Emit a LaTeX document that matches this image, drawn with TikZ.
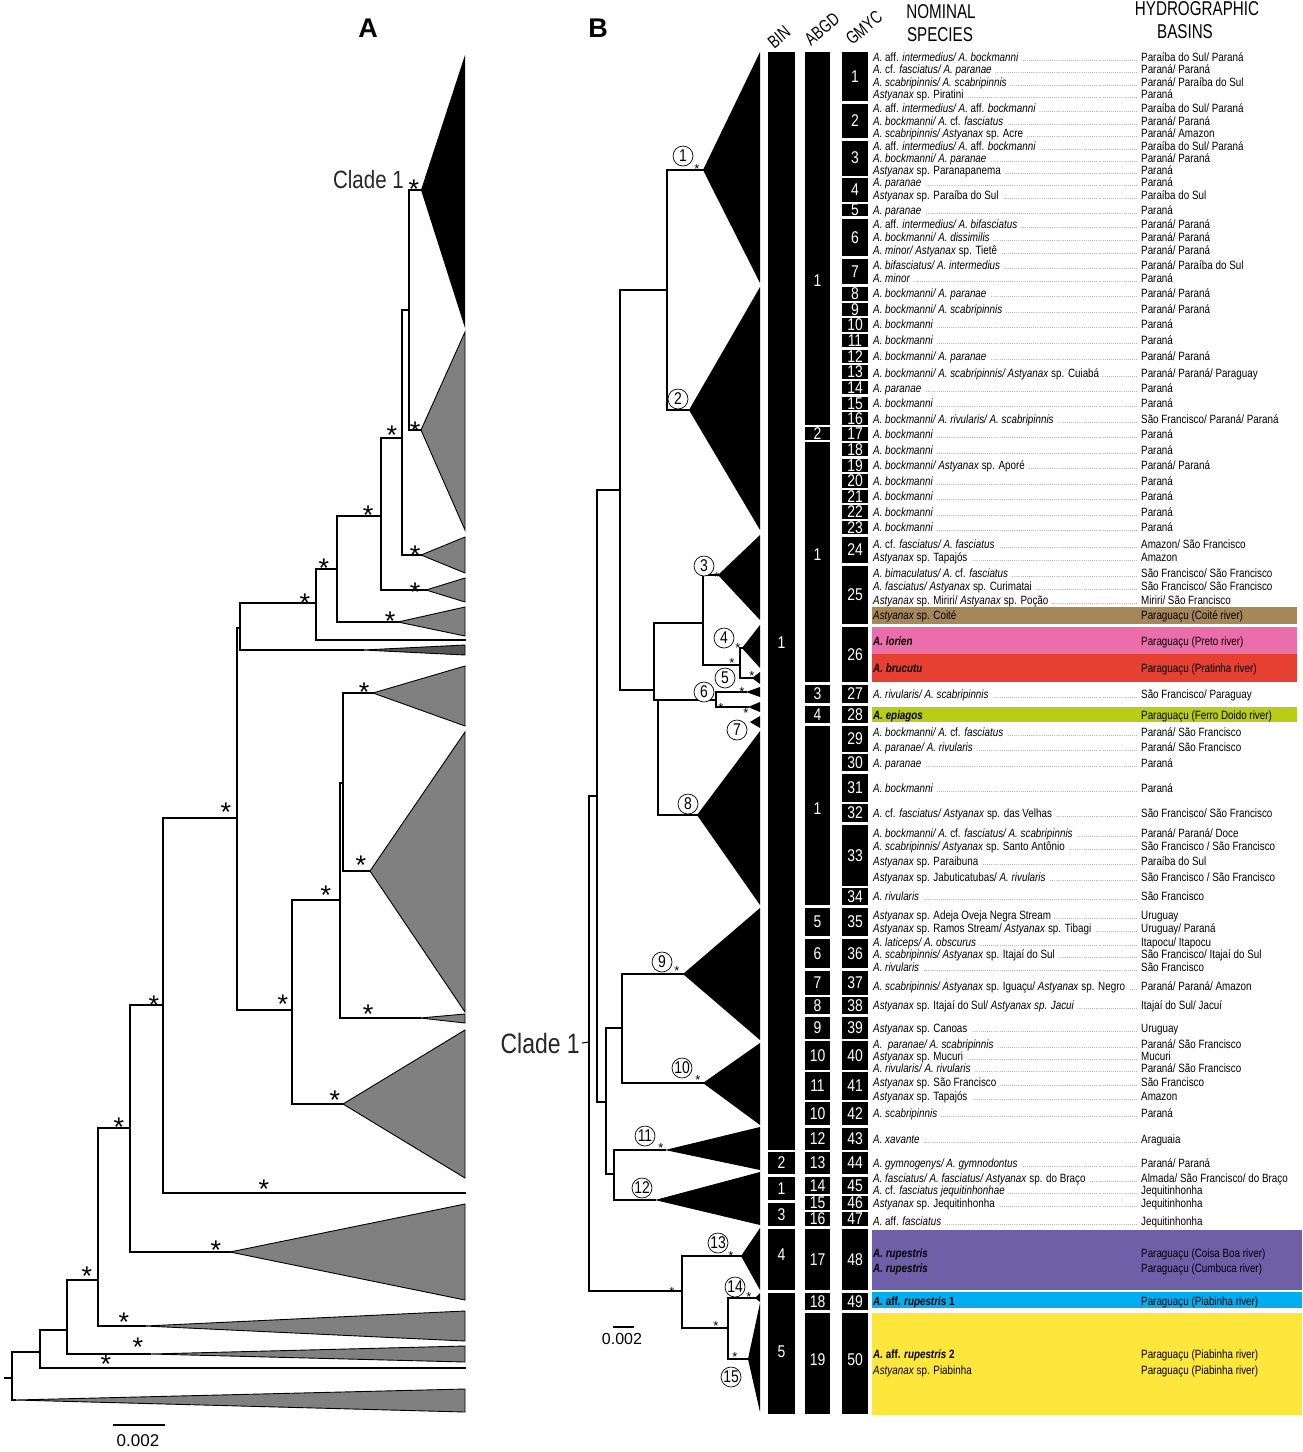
\documentclass[tikz,border=0pt]{standalone}
\usepackage{fontspec}
\setmainfont{Liberation Sans}
\newfontfamily\nar[FakeStretch=0.82]{Liberation Sans}
\newfontfamily\narr[FakeStretch=0.76]{Liberation Sans}
\definecolor{tgray}{RGB}{128,128,128}
\definecolor{dgray}{RGB}{85,85,85}
\definecolor{cbrown}{RGB}{166,135,90}
\definecolor{cpink}{RGB}{235,110,170}
\definecolor{cred}{RGB}{230,64,50}
\definecolor{cgreen}{RGB}{185,205,20}
\definecolor{cpurple}{RGB}{110,95,168}
\definecolor{ccyan}{RGB}{0,174,239}
\definecolor{cyellow}{RGB}{255,230,60}
\newcommand\I[1]{\textit{#1}}
\newcommand\ldr{\leaders\hbox to 2.1pt{\hss\fontsize{6}{6}\selectfont.\hss}\hfill}
\newcommand\row[3]{\node[lst] (r#1) at (873,#1+4.3) {\makebox[265pt][l]{#2\ \ldr}\hspace{3pt}#3};}
\newcommand\crow[3]{\node[lst] (r#1) at (873,#1+4.3) {\makebox[265pt][l]{#2}\hspace{3pt}#3};}
\begin{document}
\begin{tikzpicture}[x=1pt,y=-1pt,
  br/.style={line width=2.8pt,line cap=rect,line join=miter},
  triA/.style={fill=tgray,draw=black,line width=0.9pt},
  triB/.style={fill=black},
  astA/.style={font=\fontsize{27}{27}\selectfont,inner sep=0,yshift=-3pt},
  astB/.style={font=\fontsize{13}{13}\selectfont,inner sep=0,yshift=-1.5pt},
  circ/.style={circle,draw,line width=0.7pt,inner sep=0pt,minimum size=20pt,font=\nar\fontsize{17}{17}\selectfont},
  lst/.style={font=\nar\fontsize{12}{12}\selectfont,inner sep=0,anchor=base west},
  num/.style={text=white,font=\nar\fontsize{17}{17}\selectfont,inner sep=0},
  hdr/.style={font=\narr\fontsize{20}{20}\selectfont,inner sep=0},
  rhdr/.style={font=\narr\fontsize{18}{18}\selectfont,inner sep=0,rotate=40},
  panel/.style={font=\bfseries\fontsize{27}{27}\selectfont,inner sep=0}]
\useasboundingbox (0,0) rectangle (1303,1452);
\fill[white] (0,0) rectangle (1303,1452);
% ================= PANEL A =================
\node[panel] (labA) at (368,28) {A};
\coordinate (a1) at (409,310);
\coordinate (tA1) at (421,190);
\coordinate (tA2) at (421,430);
\coordinate (a2) at (402,438);
\coordinate (tA3) at (421,555);
\coordinate (a3) at (381,516);
\coordinate (tA4) at (426,590);
\coordinate (a4) at (337,569);
\coordinate (tA5) at (398,622);
\coordinate (a5) at (316,603);
\coordinate (lA6) at (465,640);
\coordinate (a6) at (240,628);
\coordinate (tA6) at (363,650);
\coordinate (a7) at (237,818);
\coordinate (a8) at (292,1010);
\coordinate (a9) at (340,900);
\coordinate (a10) at (343,783);
\coordinate (tA7) at (373,693);
\coordinate (tA8) at (370,871);
\coordinate (tA9) at (420,1018);
\coordinate (tA10) at (343,1104);
\coordinate (a11) at (163,1005);
\coordinate (lA11) at (465,1193);
\coordinate (a12) at (130,1128);
\coordinate (tA12) at (230,1252);
\coordinate (a13) at (98,1280);
\coordinate (tA13) at (145,1326);
\coordinate (a14) at (67,1330);
\coordinate (tA14) at (150,1354);
\coordinate (a15) at (40,1352);
\coordinate (lA15) at (465,1368);
\coordinate (aR) at (12,1378);
\coordinate (aS) at (5,1378);
\coordinate (tA16) at (15,1400);
% triangles A
\fill[black] (tA1) -- (465,55) -- (465,328) -- cycle;
\draw[triA] (tA2) -- (465,332) -- (465,530) -- cycle;
\draw[triA] (tA3) -- (465,537) -- (465,573) -- cycle;
\draw[triA] (tA4) -- (465,578) -- (465,602) -- cycle;
\draw[triA] (tA5) -- (465,607) -- (465,636) -- cycle;
\draw[triA,fill=dgray] (tA6) -- (465,645) -- (465,655) -- cycle;
\draw[triA] (tA7) -- (465,666) -- (465,726) -- cycle;
\draw[triA] (tA8) -- (465,732) -- (465,1012) -- cycle;
\draw[triA] (tA9) -- (465,1014) -- (465,1023) -- cycle;
\draw[triA] (tA10) -- (465,1030) -- (465,1178) -- cycle;
\draw[triA] (tA12) -- (465,1204) -- (465,1300) -- cycle;
\draw[triA] (tA13) -- (465,1311) -- (465,1341) -- cycle;
\draw[triA] (tA14) -- (465,1346) -- (465,1362) -- cycle;
\draw[triA] (tA16) -- (465,1389) -- (465,1412) -- cycle;
% branches A
\draw[br] (a1) |- (tA1); \draw[br] (a1) |- (tA2);
\draw[br] (a2) |- (a1); \draw[br] (a2) |- (tA3);
\draw[br] (a3) |- (a2); \draw[br] (a3) |- (tA4);
\draw[br] (a4) |- (a3); \draw[br] (a4) |- (tA5);
\draw[br] (a5) |- (a4); \draw[br] (a5) |- (lA6);
\draw[br] (a6) |- (a5); \draw[br] (a6) |- (tA6);
\draw[br] (a7) |- (a6); \draw[br] (a7) |- (a8);
\draw[br] (a8) |- (a9); \draw[br] (a8) |- (tA10);
\draw[br] (a9) |- (a10); \draw[br] (a9) |- (tA9);
\draw[br] (a10) |- (tA7); \draw[br] (a10) |- (tA8);
\draw[br] (a11) |- (a7); \draw[br] (a11) |- (lA11);
\draw[br] (a12) |- (a11); \draw[br] (a12) |- (tA12);
\draw[br] (a13) |- (a12); \draw[br] (a13) |- (tA13);
\draw[br] (a14) |- (a13); \draw[br] (a14) |- (tA14);
\draw[br] (a15) |- (a14); \draw[br] (a15) |- (lA15);
\draw[br] (aR) |- (a15); \draw[br] (aR) |- (tA16);
\draw[br] (aS) -- (aR);
% asterisks A
\foreach \x/\y [count=\i] in {414/186,415/428,392/432,368/512,415/552,415/589,390/618,324/565,305/600,226/809,283/1001,326/892,364/689,361/862,368/1011,335/1097,264/1186,154/1002,119/1124,216/1247,87/1273,124/1319,138/1344,106/1361}
  \node[astA] (sa\i) at (\x,\y) {*};
\node[font=\nar\fontsize{25}{25}\selectfont,text=black!85,anchor=east,inner sep=0] (cladeA) at (404,180) {Clade 1};
\draw[line width=1.5pt] (113,1425) coordinate (sbA1) -- (165,1425) coordinate (sbA2);
\node[font=\fontsize{17}{17}\selectfont,inner sep=0] (sbAt) at (138,1441) {0.002};
% ================= PANEL B =================
\node[panel] (labB) at (598,28) {B};
\coordinate (bR) at (589,1291);
\coordinate (b0) at (597,796);
\coordinate (bA) at (620,490);
\coordinate (b1) at (667,290);
\coordinate (tB1) at (703,170);
\coordinate (tB2) at (689,410);
\coordinate (bB) at (654,690);
\coordinate (b345) at (703,623);
\coordinate (tB3) at (718,575);
\coordinate (b45) at (740,665);
\coordinate (tB4) at (742,648);
\coordinate (tB5) at (752,678);
\coordinate (b678) at (658,700);
\coordinate (b6) at (716,700);
\coordinate (t6a) at (746,692);
\coordinate (t6b) at (748,707);
\coordinate (tB7) at (750,722);
\coordinate (tB8) at (697,815);
\coordinate (bC) at (606,1102);
\coordinate (bD) at (622,1028);
\coordinate (tB9) at (683,974);
\coordinate (tB10) at (703,1083);
\coordinate (bE) at (614,1174);
\coordinate (tB11) at (665,1150);
\coordinate (tB12) at (655,1200);
\coordinate (bF) at (682,1291);
\coordinate (tB13) at (741,1256);
\coordinate (bG) at (728,1328);
\coordinate (tB14) at (755,1298);
\coordinate (tB15) at (748,1359);
% triangles B
\foreach \p/\t/\b in {tB1/52/283,tB2/287/530,tB3/535/620,tB4/625/668,tB5/672/684,t6a/687/697,t6b/702/712,tB7/716/728,tB8/731/905,tB9/908/1040,tB10/1043/1125,tB11/1127/1170,tB12/1172/1225,tB13/1228/1290,tB14/1293/1302,tB15/1303/1412}
  \fill[triB] (\p) -- (760,\t) -- (760,\b) -- cycle;
% branches B
\draw[br] (bR) |- (b0); \draw[br] (bR) -- (bF);
\draw[br] (b0) |- (bA); \draw[br] (b0) |- (bC);
\draw[br] (bA) |- (b1); \draw[br] (bA) |- (bB);
\draw[br] (b1) |- (tB1); \draw[br] (b1) |- (tB2);
\draw[br] (bB) |- (b345); \draw[br] (bB) |- (b678);
\draw[br] (b345) |- (tB3); \draw[br] (b345) |- (b45);
\draw[br] (b45) |- (tB4); \draw[br] (b45) |- (tB5);
\draw[br] (b678) |- (b6); \draw[br] (b678) |- (tB8);
\draw[br] (b6) |- (t6a); \draw[br] (b6) |- (t6b);
\draw[br] (bC) |- (bD); \draw[br] (bC) |- (bE);
\draw[br] (bD) |- (tB9); \draw[br] (bD) |- (tB10);
\draw[br] (bE) |- (tB11); \draw[br] (bE) |- (tB12);
\draw[br] (bF) |- (tB13); \draw[br] (bF) |- (bG);
\draw[br] (bG) |- (tB14); \draw[br] (bG) |- (tB15);
% circled numbers
\foreach \x/\y/\n in {683/156/1,678/399/2,704/566/3,724/638/4,725/678/5,704/692/6,737/730/7,688/804/8,662/962/9,682/1068/10,645/1136/11,642/1188/12,718/1243/13,735/1287/14,731/1377/15}
  \node[circ,fill=white] (c\n) at (\x,\y) {\n};
% asterisks B
\foreach \x/\y [count=\i] in {697/168,717/576,738/647,732/662,752/675,742/691,721/707,746/712,677/970,698/1079,661/1147,731/1255,672/1291,749/1296,716/1325,735/1356}
  \node[astB] (sb\i) at (\x,\y) {*};
\node[font=\nar\fontsize{28}{28}\selectfont,text=black!85,anchor=east,inner sep=0] (cladeB) at (580,1043) {Clade 1};
\coordinate (tick) at (589,1042);
\draw[line width=1pt] (cladeB.east) ++(2,0) -- (tick);
\draw[line width=1.5pt] (613,1327) coordinate (sbB1) -- (634,1327) coordinate (sbB2);
\node[font=\fontsize{16}{16}\selectfont,inner sep=0] (sbBt) at (622,1339) {0.002};
% ================= COLUMNS =================
\node[rhdr] (hBIN) at (779,37) {BIN};
\node[rhdr] (hABGD) at (822,29) {ABGD};
\node[rhdr] (hGMYC) at (864,28) {GMYC};
\node[hdr] (hN1) at (941,12) {NOMINAL};
\node[hdr] (hN2) at (940,35) {SPECIES};
\node[hdr] (hH1) at (1197,9) {HYDROGRAPHIC};
\node[hdr] (hH2) at (1185,32) {BASINS};
\foreach \t/\b/\l/\y [count=\i] in {52/1150/1/643,1152/1174/2/1163,1177/1200/1/1189,1203/1226/3/1215,1229/1290/4/1255,1293/1414/5/1352}{
  \fill (768,\t) rectangle (795,\b);
  \node[num] (bin\i) at (781.5,\y) {\l};}
\foreach \t/\b/\l/\y [count=\i] in {52/425/1/281,427/440/2/433.5,442/682/1/555,685/703/3/694,706/723/4/714.5,726/905/1/809,908/936/5/922,939/968/6/953.5,971/995/7/983,997/1014/8/1005.5,1017/1039/9/1028,1041/1070/10/1055.5,1072/1100/11/1086,1102/1125/10/1113.5,1128/1150/12/1139,1152/1174/13/1163,1177/1194/14/1185.5,1196/1210/15/1203,1212/1226/16/1219,1229/1290/17/1259.5,1293/1310/18/1301.5,1313/1414/19/1360}{
  \fill (805,\t) rectangle (830,\b);
  \node[num] (abgd\i) at (817.5,\y) {\l};}
\foreach \t/\b/\y [count=\i] in {52/101/77,104/138/121,141/176/158,178/202/190,204/216/210,219/256/237.5,259/284/271.5,287/301/294,303/316/309.5,318/332/325,334/347/340.5,350/363/356.5,365/379/372,381/394/387.5,397/410/403.5,412/425/418.5,427/441/434,443/456/449.5,459/472/465.5,474/488/481,490/503/496.5,505/519/512,521/534/527.5,537/563/550,566/624/595,627/682/654.5,685/703/694,706/723/714.5,726/752/739,754/771/762.5,774/802/788,804/822/813,825/886/855.5,888/905/896.5,908/936/922,939/968/953.5,971/995/983,997/1014/1005.5,1017/1039/1028,1041/1070/1055.5,1072/1100/1086,1102/1125/1113.5,1128/1150/1139,1152/1174/1163,1177/1194/1185.5,1196/1210/1203,1212/1226/1219,1229/1290/1259.5,1293/1310/1301.5,1313/1414/1360}{
  \fill (842,\t) rectangle (868,\b);
  \node[num] (gmyc\i) at (855,\y) {\i};}
% ================= colour bands =================
\fill[cbrown] (872,607) rectangle (1297,624);
\fill[cpink] (872,627) rectangle (1297,654);
\fill[cred] (872,654) rectangle (1297,682);
\fill[cgreen] (872,707) rectangle (1297,722);
\fill[cpurple] (872,1230) rectangle (1302,1290);
\fill[ccyan] (872,1292) rectangle (1302,1308);
\fill[cyellow] (872,1313) rectangle (1302,1415);
% ================= rows =================
\row{57}{\I{A.} aff. \I{intermedius/ A. bockmanni}}{Paraíba do Sul/ Paraná}
\row{69}{\I{A.} cf. \I{fasciatus/ A. paranae}}{Paraná/ Paraná}
\row{82}{\I{A. scabripinnis/ A. scabripinnis}}{Paraná/ Paraíba do Sul}
\row{94}{\I{Astyanax} sp. Piratini}{Paraná}
\row{108}{\I{A.} aff. \I{intermedius/ A.} aff. \I{bockmanni}}{Paraíba do Sul/ Paraná}
\row{121}{\I{A. bockmanni/ A.} cf. \I{fasciatus}}{Paraná/ Paraná}
\row{133}{\I{A. scabripinnis/ Astyanax} sp. Acre}{Paraná/ Amazon}
\row{146}{\I{A.} aff. \I{intermedius/ A.} aff. \I{bockmanni}}{Paraíba do Sul/ Paraná}
\row{158}{\I{A. bockmanni/ A. paranae}}{Paraná/ Paraná}
\row{170}{\I{Astyanax} sp. Paranapanema}{Paraná}
\row{182}{\I{A. paranae}}{Paraná}
\row{195}{\I{Astyanax} sp. Paraíba do Sul}{Paraíba do Sul}
\row{210}{\I{A. paranae}}{Paraná}
\row{224}{\I{A.} aff. \I{intermedius/ A. bifasciatus}}{Paraná/ Paraná}
\row{237}{\I{A. bockmanni/ A. dissimilis}}{Paraná/ Paraná}
\row{250}{\I{A. minor/ Astyanax} sp. Tietê}{Paraná/ Paraná}
\row{265}{\I{A. bifasciatus/ A. intermedius}}{Paraná/ Paraíba do Sul}
\row{278}{\I{A. minor}}{Paraná}
\row{293}{\I{A. bockmanni/ A. paranae}}{Paraná/ Paraná}
\row{309}{\I{A. bockmanni/ A. scabripinnis}}{Paraná/ Paraná}
\row{324}{\I{A. bockmanni}}{Paraná}
\row{340}{\I{A. bockmanni}}{Paraná}
\row{356}{\I{A. bockmanni/ A. paranae}}{Paraná/ Paraná}
\row{373}{\I{A. bockmanni/ A. scabripinnis/ Astyanax} sp. Cuiabá}{Paraná/ Paraná/ Paraguay}
\row{388}{\I{A. paranae}}{Paraná}
\row{403}{\I{A. bockmanni}}{Paraná}
\row{419}{\I{A. bockmanni/ A. rivularis/ A. scabripinnis}}{São Francisco/ Paraná/ Paraná}
\row{434}{\I{A. bockmanni}}{Paraná}
\row{450}{\I{A. bockmanni}}{Paraná}
\row{465}{\I{A. bockmanni/ Astyanax} sp. Aporé}{Paraná/ Paraná}
\row{481}{\I{A. bockmanni}}{Paraná}
\row{496}{\I{A. bockmanni}}{Paraná}
\row{512}{\I{A. bockmanni}}{Paraná}
\row{527}{\I{A. bockmanni}}{Paraná}
\row{544}{\I{A.} cf. \I{fasciatus/ A. fasciatus}}{Amazon/ São Francisco}
\row{557}{\I{Astyanax} sp. Tapajós}{Amazon}
\row{573}{\I{A. bimaculatus/ A.} cf. \I{fasciatus}}{São Francisco/ São Francisco}
\row{586}{\I{A. fasciatus/ Astyanax} sp. Curimatai}{São Francisco/ São Francisco}
\row{600}{\I{Astyanax} sp. Miriri/ \I{Astyanax} sp. Poção}{Miriri/ São Francisco}
\crow{615}{\I{Astyanax} sp. Coité}{Paraguaçu (Coité river)}
\crow{641}{\textbf{\I{A. lorien}}}{Paraguaçu (Preto river)}
\crow{668}{\textbf{\I{A. brucutu}}}{Paraguaçu (Pratinha river)}
\row{694}{\I{A. rivularis/ A. scabripinnis}}{São Francisco/ Paraguay}
\crow{715}{\textbf{\I{A. epiagos}}}{Paraguaçu (Ferro Doido river)}
\row{732}{\I{A. bockmanni/ A.} cf. \I{fasciatus}}{Paraná/ São Francisco}
\row{747}{\I{A. paranae/ A. rivularis}}{Paraná/ São Francisco}
\row{763}{\I{A. paranae}}{Paraná}
\row{788}{\I{A. bockmanni}}{Paraná}
\row{813}{\I{A.} cf. \I{fasciatus/ Astyanax} sp. das Velhas}{São Francisco/ São Francisco}
\row{833}{\I{A. bockmanni/ A.} cf. \I{fasciatus/ A. scabripinnis}}{Paraná/ Paraná/ Doce}
\row{846}{\I{A. scabripinnis/ Astyanax} sp. Santo Antônio}{São Francisco / São Francisco}
\row{861}{\I{Astyanax} sp. Paraibuna}{Paraíba do Sul}
\row{877}{\I{Astyanax} sp. Jabuticatubas/ \I{A. rivularis}}{São Francisco / São Francisco}
\row{896}{\I{A. rivularis}}{São Francisco}
\row{915}{\I{Astyanax} sp. Adeja Oveja Negra Stream}{Uruguay}
\row{928}{\I{Astyanax} sp. Ramos Stream/ \I{Astyanax} sp. Tibagi}{Uruguay/ Paraná}
\row{942}{\I{A. laticeps/ A. obscurus}}{Itapocu/ Itapocu}
\row{954}{\I{A. scabripinnis/ Astyanax} sp. Itajaí do Sul}{São Francisco/ Itajaí do Sul}
\row{967}{\I{A. rivularis}}{São Francisco}
\row{986}{\I{A. scabripinnis/ Astyanax} sp. Iguaçu/ \I{Astyanax} sp. Negro}{Paraná/ Paraná/ Amazon}
\row{1005}{\I{Astyanax} sp. Itajaí do Sul/ \I{Astyanax sp. Jacui}}{Itajaí do Sul/ Jacuí}
\row{1028}{\I{Astyanax} sp. Canoas}{Uruguay}
\row{1044}{\I{A.\ \ paranae/ A. scabripinnis}}{Paraná/ São Francisco}
\row{1056}{\I{Astyanax} sp. Mucuri}{Mucuri}
\row{1068}{\I{A. rivularis/ A. rivularis}}{Paraná/ São Francisco}
\row{1082}{\I{Astyanax} sp. São Francisco}{São Francisco}
\row{1096}{\I{Astyanax} sp. Tapajós}{Amazon}
\row{1113}{\I{A. scabripinnis}}{Paraná}
\row{1139}{\I{A. xavante}}{Araguaia}
\row{1163}{\I{A. gymnogenys/ A. gymnodontus}}{Paraná/ Paraná}
\row{1178}{\I{A. fasciatus/ A. fasciatus/ Astyanax} sp. do Braço}{Almada/ São Francisco/ do Braço}
\row{1190}{\I{A.} cf. \I{fasciatus jequitinhonhae}}{Jequitinhonha}
\row{1203}{\I{Astyanax} sp. Jequitinhonha}{Jequitinhonha}
\row{1221}{\I{A.} aff. \I{fasciatus}}{Jequitinhonha}
\crow{1253}{\textbf{\I{A. rupestris}}}{Paraguaçu (Coisa Boa river)}
\crow{1268}{\textbf{\I{A. rupestris}}}{Paraguaçu (Cumbuca river)}
\crow{1301}{\textbf{\I{A.} aff. \I{rupestris} 1}}{Paraguaçu (Piabinha river)}
\crow{1354}{\textbf{\I{A.} aff. \I{rupestris} 2}}{Paraguaçu (Piabinha river)}
\crow{1370}{\I{Astyanax} sp. Piabinha}{Paraguaçu (Piabinha river)}
\end{tikzpicture}
\end{document}
